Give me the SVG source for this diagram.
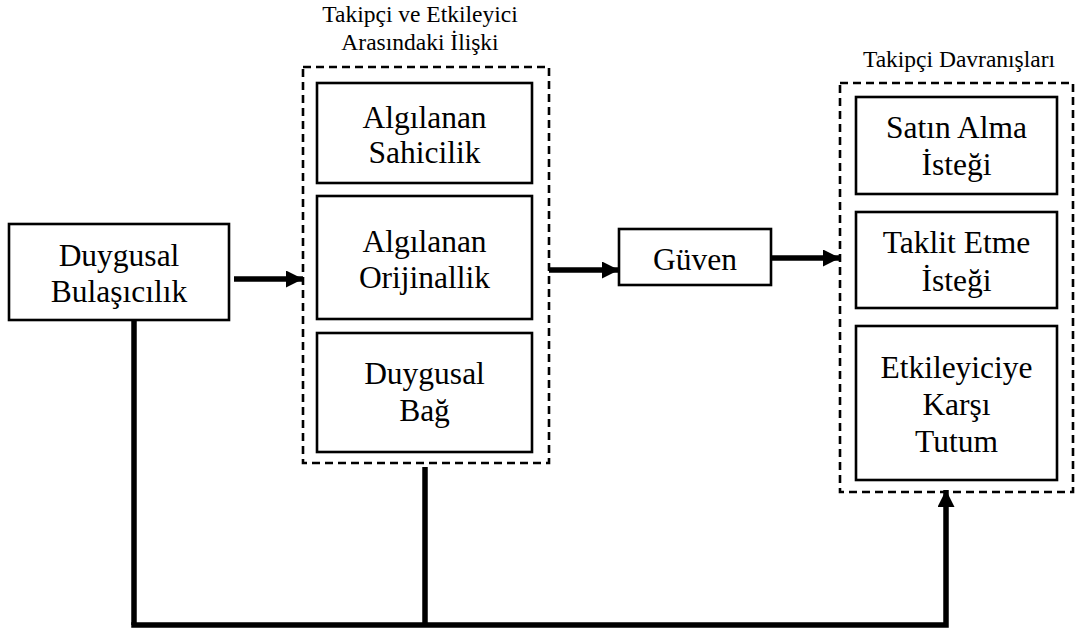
<svg xmlns="http://www.w3.org/2000/svg" width="1075" height="633" viewBox="0 0 1075 633">
<defs>
<style>
.box{fill:#fff;stroke:#000;stroke-width:2.6}
.grp{fill:none;stroke:#000;stroke-width:2.6;stroke-dasharray:8 5}
.lbl{font-size:31.5px;text-anchor:middle;fill:#000}
.ttl{font-size:23.5px;text-anchor:middle;fill:#000}
.ln{fill:none;stroke:#000;stroke-width:5.5}
</style>
<marker id="ah" markerUnits="userSpaceOnUse" viewBox="0 0 17 17" markerWidth="17" markerHeight="17" refX="17" refY="8.5" orient="auto">
<path d="M0,0 L17,8.5 L0,17 Z" fill="#000"/>
</marker>
</defs>
<rect width="1075" height="633" fill="#fff"/>
<g font-family="Times New Roman, Liberation Serif, Tinos, DejaVu Serif, serif">
<g id="grp-iliski">
<rect class="grp" x="303" y="67" width="246" height="396"/>
<text class="ttl" x="420" y="22">Takipçi ve Etkileyici</text>
<text class="ttl" x="420" y="50">Arasındaki İlişki</text>
</g>
<g id="grp-davranis">
<rect class="grp" x="840" y="83" width="233" height="409"/>
<text class="ttl" x="959" y="67">Takipçi Davranışları</text>
</g>

<g id="n-duygusal-bulasicilik">
<rect class="box" x="9" y="224" width="220" height="96"/>
<text class="lbl" x="119" y="266">Duygusal</text>
<text class="lbl" x="119" y="302">Bulaşıcılık</text>
</g>
<g id="n-sahicilik">
<rect class="box" x="317" y="83" width="215" height="100"/>
<text class="lbl" x="424.5" y="128">Algılanan</text>
<text class="lbl" x="424.5" y="163">Sahicilik</text>
</g>
<g id="n-orijinallik">
<rect class="box" x="317" y="196" width="215" height="123"/>
<text class="lbl" x="424.5" y="252">Algılanan</text>
<text class="lbl" x="424.5" y="288">Orijinallik</text>
</g>
<g id="n-duygusal-bag">
<rect class="box" x="317" y="333" width="215" height="119"/>
<text class="lbl" x="424.5" y="384">Duygusal</text>
<text class="lbl" x="424.5" y="421">Bağ</text>
</g>
<g id="n-guven">
<rect class="box" x="619" y="229" width="152" height="56"/>
<text class="lbl" x="695" y="270">Güven</text>
</g>
<g id="n-satin-alma">
<rect class="box" x="856" y="97" width="201" height="97"/>
<text class="lbl" x="956.5" y="138">Satın Alma</text>
<text class="lbl" x="956.5" y="175">İsteği</text>
</g>
<g id="n-taklit">
<rect class="box" x="856" y="212" width="201" height="96"/>
<text class="lbl" x="956.5" y="253">Taklit Etme</text>
<text class="lbl" x="956.5" y="291">İsteği</text>
</g>
<g id="n-tutum">
<rect class="box" x="856" y="326" width="201" height="154"/>
<text class="lbl" x="956.5" y="378">Etkileyiciye</text>
<text class="lbl" x="956.5" y="415">Karşı</text>
<text class="lbl" x="956.5" y="452">Tutum</text>
</g>
</g>
<g id="connectors">
<line class="ln" x1="234" y1="279" x2="303" y2="279" marker-end="url(#ah)"/>
<line class="ln" x1="549" y1="270" x2="619" y2="270" marker-end="url(#ah)"/>
<line class="ln" x1="771" y1="258" x2="840" y2="258" marker-end="url(#ah)"/>
<line class="ln" x1="134" y1="320" x2="134" y2="625"/>
<line class="ln" x1="425" y1="467" x2="425" y2="625"/>
<path class="ln" d="M131.25,625 L946,625 L946,490" marker-end="url(#ah)"/>
</g>
</svg>
